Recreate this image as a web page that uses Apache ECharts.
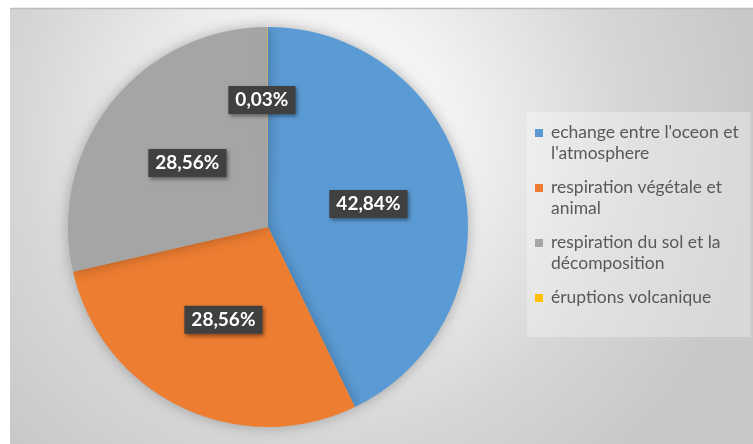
<!DOCTYPE html>
<html>
<head>
<meta charset="utf-8">
<script src="https://cdn.jsdelivr.net/npm/echarts@6/dist/echarts.min.js"></script>
<style>
  html, body { margin: 0; padding: 0; background: #ffffff; }
  #chart { width: 753px; height: 444px; }
</style>
</head>
<body>
<div id="chart"></div>
<script>
// Sources of atmospheric CO2 exchange (share of total, %)
const categories = [
  "echange entre l'oceon et l'atmosphere",
  "respiration végétale et animal",
  "respiration du sol et la décomposition",
  "éruptions volcanique"
];
const shares = [42.84, 28.56, 28.56, 0.03];
// Legend text split over two lines, as laid out in the key
const legendLines = [
  ["echange entre l'oceon et", "l'atmosphere"],
  ["respiration végétale et", "animal"],
  ["respiration du sol et la", "décomposition"],
  ["éruptions volcanique", " "]
];
const sliceColors = ['#5B9BD5', '#ED7D31', '#A5A5A5', '#FFC000'];

const chart = echarts.init(document.getElementById('chart'), null, { renderer: 'canvas' });

// square key marker in the upper part of a tall icon box
const keyIcon = 'path://M0,7L8,7L8,15L0,15Z M11,0L11,0.05 M0,42L0.05,42';

const option = {
  animation: false,
  graphic: [
    {
      type: 'rect', z: -10,
      shape: { x: 10, y: 8, width: 743, height: 436 },
      style: {
        fill: {
          type: 'radial', x: 0.42, y: 0.3, r: 1,
          colorStops: [
            { offset: 0, color: '#ffffff' },
            { offset: 0.3, color: '#f3f3f3' },
            { offset: 0.7, color: '#d6d6d6' },
            { offset: 1, color: '#c8c8c8' }
          ]
        }
      }
    },
    {
      type: 'line', z: -9,
      shape: { x1: 10, y1: 8.5, x2: 753, y2: 8.5 },
      style: { stroke: '#bdbdbd', lineWidth: 1.5 }
    }
  ],
  legend: {
    orient: 'vertical',
    left: 527,
    top: 112,
    padding: [10, 12, 8, 8],
    itemGap: 13,
    itemWidth: 11,
    itemHeight: 42,
    backgroundColor: 'rgba(255,255,255,0.3)',
    selectedMode: false,
    data: categories.map(function (name) { return { name: name, icon: keyIcon }; }),
    itemStyle: { borderWidth: 0 },
    formatter: function (name) {
      return legendLines[categories.indexOf(name)].join('\n');
    },
    textStyle: {
      fontFamily: 'Lato',
      fontSize: 17.5,
      lineHeight: 21,
      color: '#595959'
    }
  },
  series: [
    {
      type: 'pie',
      center: [268, 227],
      radius: 200,
      startAngle: 90,
      clockwise: true,
      avoidLabelOverlap: false,
      labelLine: { show: false },
      itemStyle: {
        borderWidth: 0,
        shadowBlur: 14,
        shadowColor: 'rgba(0,0,0,0.28)'
      },
      emphasis: { disabled: true },
      label: {
        show: true,
        position: 'inside',
        formatter: function (p) { return p.value.toFixed(2).replace('.', ',') + '%'; },
        color: '#ffffff',
        fontFamily: 'Lato',
        fontWeight: 'bold',
        fontSize: 19,
        backgroundColor: '#404040',
        padding: [5, 7, 4, 7],
        shadowBlur: 4,
        shadowOffsetX: 2,
        shadowOffsetY: 2,
        shadowColor: 'rgba(0,0,0,0.45)'
      },
      labelLayout: function (params) {
        // the tiny volcanic slice gets its label lifted a little toward the rim
        if (params.dataIndex === 3) {
          return { dx: -6, dy: -24 };
        }
        return {};
      },
      data: categories.map(function (name, i) {
        return { name: name, value: shares[i], itemStyle: { color: sliceColors[i] } };
      })
    }
  ]
};

chart.setOption(option);
</script>
</body>
</html>
